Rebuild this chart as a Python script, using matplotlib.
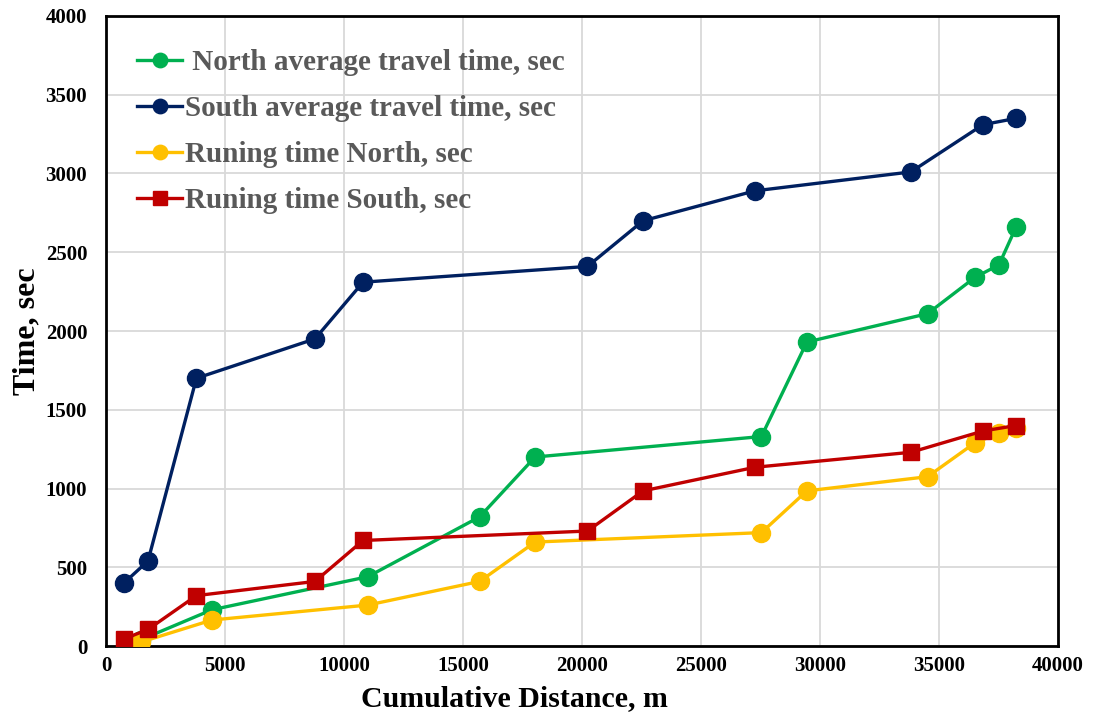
import matplotlib
matplotlib.use("Agg")
import matplotlib.pyplot as plt

# Data
north_x = [1470, 4450, 11000, 15700, 18030, 27540, 29450, 34520, 36510, 37520, 38240]
north_avg = [40, 230, 440, 820, 1200, 1330, 1930, 2110, 2340, 2420, 2660]
north_run = [25, 165, 260, 410, 660, 720, 985, 1075, 1290, 1350, 1385]

south_x = [756, 1765, 3800, 8780, 10800, 20230, 22570, 27270, 33820, 36850, 38240]
south_avg = [400, 540, 1700, 1950, 2310, 2410, 2700, 2890, 3010, 3310, 3350]
south_run = [45, 105, 320, 410, 670, 730, 985, 1135, 1230, 1365, 1400]

labels = [" North average travel time, sec", "South average travel time, sec",
          "Runing time North, sec", "Runing time South, sec"]
colors = ["#00B050", "#002060", "#FFC000", "#C00000"]

xticks = list(range(0, 40001, 5000))
yticks = list(range(0, 4001, 500))

serif = ["Liberation Serif", "DejaVu Serif"]
plt.rcParams["font.family"] = serif

fig = plt.figure(figsize=(10.96, 7.17), dpi=100)
ax = fig.add_axes([0.0967, 0.099, 0.8686, 0.8787])

lw = 2.4
ax.plot(north_x, north_avg, color=colors[0], lw=lw, marker="o", ms=13, label=labels[0], zorder=3)
ax.plot(south_x, south_avg, color=colors[1], lw=lw, marker="o", ms=13, label=labels[1], zorder=3)
ax.plot(north_x, north_run, color=colors[2], lw=lw, marker="o", ms=13, label=labels[2], zorder=3)
ax.plot(south_x, south_run, color=colors[3], lw=lw, marker="s", ms=12, label=labels[3], zorder=3)

ax.set_xlim(0, 40000)
ax.set_ylim(0, 4000)
ax.set_xticks(xticks)
ax.set_yticks(yticks)
ax.grid(True, color="#d9d9d9", lw=1.3)
ax.set_axisbelow(True)
ax.tick_params(length=0, labelsize=15)
ax.tick_params(axis="y", pad=13.5)
ax.tick_params(axis="x", pad=7)
for t in ax.get_xticklabels() + ax.get_yticklabels():
    t.set_fontweight("bold")
for s in ax.spines.values():
    s.set_linewidth(2)
    s.set_color("black")

ax.set_xlabel("Cumulative Distance, m", fontsize=21.5, fontweight="bold")
ax.xaxis.set_label_coords(0.429, -0.062)
ax.set_ylabel("Time, sec", fontsize=23, fontweight="bold")
ax.yaxis.set_label_coords(-0.068, 0.5)

leg = ax.legend(loc="upper left", bbox_to_anchor=(0.0326, 0.947), frameon=False,
                prop={"family": serif, "weight": "bold", "size": 21},
                handlelength=1.55, handletextpad=0.1, labelspacing=0.65,
                borderpad=0, borderaxespad=0, markerscale=0.8)
for t in leg.get_texts():
    t.set_color("#595959")

fig.savefig("out.png", dpi=100)
